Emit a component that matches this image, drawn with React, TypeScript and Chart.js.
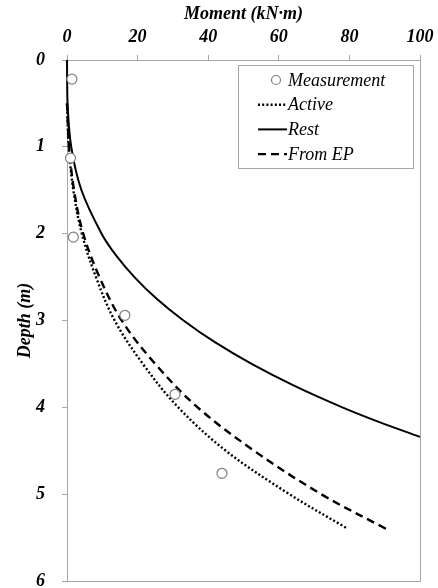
import React, { useEffect, useRef } from "react";
import { Chart, registerables } from "chart.js";

Chart.register(...registerables);

// ---- data ----
const measurementMoment = [1.4, 1.0, 1.8, 16.4, 30.6, 43.9];
const measurementDepth = [0.22, 1.13, 2.04, 2.94, 3.85, 4.76];

const activeDepth = [0.5, 1.0, 1.5, 2.0, 2.5, 3.0, 3.5, 4.0, 4.5, 5.0, 5.4];
const activeMoment = [0, 0.5, 1.8, 4.2, 8.2, 13.5, 21.5, 31.5, 45, 63, 79.6];

const restDepth = [0, 0.5, 1.0, 1.5, 2.0, 2.25, 2.5, 2.75, 3.0, 3.25, 3.5, 3.75, 4.0, 4.17, 4.34];
const restMoment = [0, 0.15, 1.2, 4.1, 9.8, 13.9, 19.1, 25.4, 33, 41.9, 52.3, 64.3, 78, 88.5, 100];

const fromEpDepth = [0.5, 1.0, 1.5, 2.0, 2.5, 3.0, 3.5, 4.0, 4.5, 5.0, 5.4];
const fromEpMoment = [0, 0.6, 2.0, 4.6, 9.2, 15.5, 25, 37, 53, 72, 90.4];

const seriesLabels = ["Measurement", "Active", "Rest", "From EP"];
const xAxisTitle = "Moment (kN·m)";
const yAxisTitle = "Depth (m)";

const toPoints = (xs: number[], ys: number[]) => xs.map((x, i) => ({ x, y: ys[i] }));

const SERIF = "'Liberation Serif', 'Times New Roman', serif";
const AXIS_GRAY = "#a6a6a6";

const frameBorder = {
  id: "frameBorder",
  beforeDatasetsDraw(chart: any) {
    const { ctx, chartArea } = chart;
    ctx.save();
    ctx.strokeStyle = AXIS_GRAY;
    ctx.lineWidth = 1;
    ctx.beginPath();
    ctx.moveTo(chartArea.right + 0.5, chartArea.top);
    ctx.lineTo(chartArea.right + 0.5, chartArea.bottom + 0.5);
    ctx.lineTo(chartArea.left, chartArea.bottom + 0.5);
    ctx.stroke();
    ctx.restore();
  },
};

const boxLegend = {
  id: "boxLegend",
  afterDatasetsDraw(chart: any) {
    const { ctx, chartArea } = chart;
    const w = 175;
    const h = 103;
    const x0 = Math.round(chartArea.right - 7 - w);
    const y0 = Math.round(chartArea.top + 5);
    ctx.save();
    ctx.fillStyle = "#ffffff";
    ctx.fillRect(x0, y0, w, h);
    ctx.strokeStyle = AXIS_GRAY;
    ctx.lineWidth = 1;
    ctx.strokeRect(x0 + 0.5, y0 + 0.5, w, h);
    ctx.font = `italic 18px ${SERIF}`;
    ctx.textBaseline = "middle";
    ctx.textAlign = "left";
    chart.data.datasets.forEach((ds: any, i: number) => {
      const y = y0 + 15 + i * 24.7;
      if (!ds.showLine) {
        ctx.beginPath();
        ctx.arc(x0 + 38, y, 4.5, 0, Math.PI * 2);
        ctx.fillStyle = "#fff";
        ctx.fill();
        ctx.strokeStyle = ds.pointBorderColor;
        ctx.lineWidth = 1.2;
        ctx.stroke();
      } else {
        ctx.beginPath();
        ctx.setLineDash(ds.borderDash || []);
        ctx.strokeStyle = ds.borderColor;
        ctx.lineWidth = ds.borderWidth;
        ctx.moveTo(x0 + 20, y);
        ctx.lineTo(x0 + 49, y);
        ctx.stroke();
        ctx.setLineDash([]);
      }
      ctx.fillStyle = "#000";
      ctx.fillText(ds.label, x0 + 50, y + 1);
    });
    ctx.restore();
  },
};

export default function App() {
  const canvasRef = useRef<HTMLCanvasElement | null>(null);

  useEffect(() => {
    const canvas = canvasRef.current;
    if (!canvas) return;
    const tickFont = { family: SERIF, size: 18, style: "italic" as const, weight: "bold" as const };
    const chart = new Chart(canvas, {
      type: "scatter",
      data: {
        datasets: [
          {
            label: seriesLabels[0],
            data: toPoints(measurementMoment, measurementDepth),
            showLine: false,
            pointRadius: 5,
            pointBorderWidth: 1.2,
            pointBorderColor: "#7f7f7f",
            pointBackgroundColor: "#ffffff",
            clip: false,
          },
          {
            label: seriesLabels[1],
            data: toPoints(activeMoment, activeDepth),
            showLine: true,
            borderColor: "#000000",
            borderWidth: 2.4,
            borderDash: [2, 2.2],
            pointRadius: 0,
            tension: 0.35,
            clip: false,
          },
          {
            label: seriesLabels[2],
            data: toPoints(restMoment, restDepth),
            showLine: true,
            borderColor: "#000000",
            borderWidth: 2,
            pointRadius: 0,
            tension: 0.35,
            clip: false,
          },
          {
            label: seriesLabels[3],
            data: toPoints(fromEpMoment, fromEpDepth),
            showLine: true,
            borderColor: "#000000",
            borderWidth: 2.4,
            borderDash: [8, 5],
            pointRadius: 0,
            tension: 0.35,
            clip: false,
          },
        ] as any,
      },
      options: {
        responsive: false,
        animation: false,
        devicePixelRatio: 1,
        layout: { padding: { left: 0, right: 18, top: 0, bottom: 7 } },
        plugins: {
          legend: { display: false },
          tooltip: { enabled: false },
        },
        scales: {
          x: {
            type: "linear",
            position: "top",
            min: 0,
            max: 100,
            ticks: { stepSize: 20, color: "#000", font: tickFont, padding: 7 },
            grid: { drawOnChartArea: false, drawTicks: true, tickLength: 5, color: AXIS_GRAY },
            border: { display: true, color: AXIS_GRAY },
            title: {
              display: true,
              text: xAxisTitle,
              color: "#000",
              font: tickFont,
              padding: { top: 4, bottom: 0 },
            },
            afterFit: (s: any) => {
              s.height = 60;
              s.paddingLeft = 0;
              s.paddingRight = 0;
              s.paddingTop = 0;
              s.paddingBottom = 0;
            },
          },
          y: {
            type: "linear",
            reverse: true,
            min: 0,
            max: 6,
            ticks: { stepSize: 1, color: "#000", font: tickFont, padding: 17 },
            grid: { drawOnChartArea: false, drawTicks: true, tickLength: 5, color: AXIS_GRAY },
            border: { display: true, color: AXIS_GRAY },
            title: {
              display: true,
              text: yAxisTitle,
              color: "#000",
              font: tickFont,
              padding: { top: 15, bottom: 0 },
            },
            afterFit: (s: any) => {
              s.width = 67;
              s.paddingLeft = 0;
              s.paddingRight = 0;
              s.paddingTop = 0;
              s.paddingBottom = 0;
            },
          },
        },
      } as any,
      plugins: [frameBorder, boxLegend],
    });
    return () => chart.destroy();
  }, []);

  return (
    <div style={{ position: "absolute", left: 0, top: 0, width: 438, height: 588, background: "#fff" }}>
      <canvas ref={canvasRef} width={438} height={588} style={{ display: "block" }} />
    </div>
  );
}
